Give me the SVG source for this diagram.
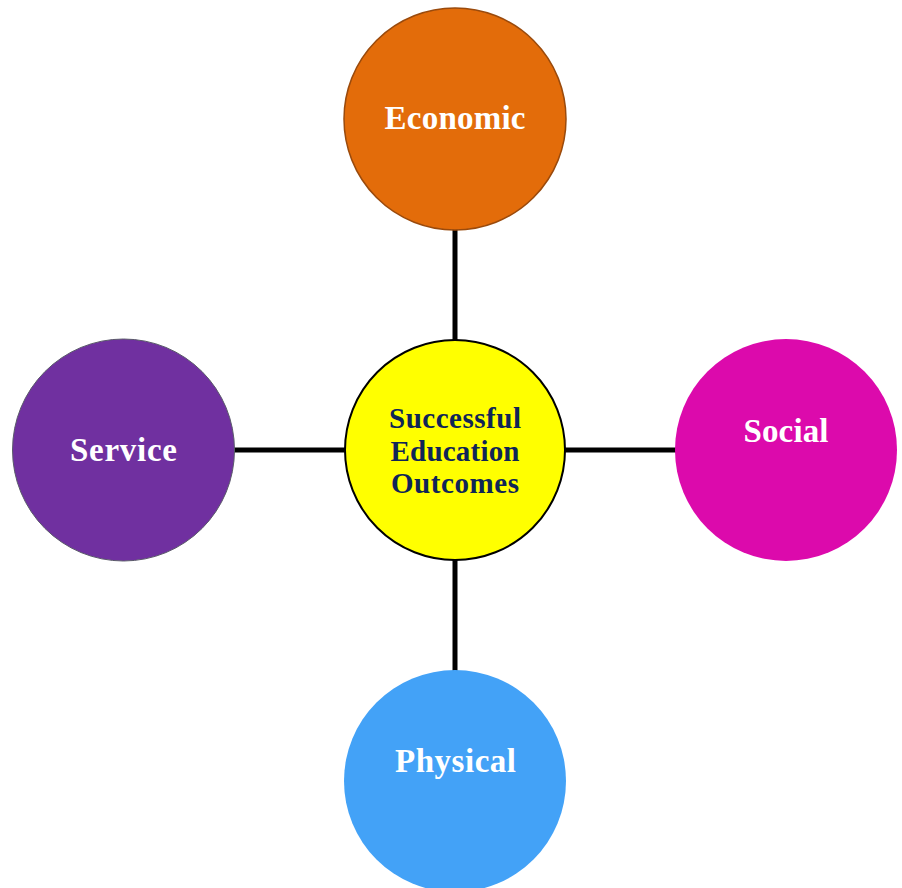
<svg xmlns="http://www.w3.org/2000/svg" width="902" height="888" viewBox="0 0 902 888">
<style>
.lbl{font-family:"Liberation Serif","Times New Roman",serif;font-weight:bold;text-anchor:middle}
.outer{font-size:33px;fill:#ffffff}
.center{font-size:29px;fill:#0f2557}
.conn{stroke:#000000;stroke-width:5;fill:none}
</style>
<rect width="902" height="888" fill="#ffffff"/>
<g id="connectors">
<line class="conn" x1="455" y1="229" x2="455" y2="341"/>
<line class="conn" x1="455" y1="559" x2="455" y2="671"/>
<line class="conn" x1="234" y1="450" x2="345" y2="450"/>
<line class="conn" x1="565" y1="450" x2="676" y2="450"/>
</g>
<g id="economic">
<circle cx="455" cy="119" r="111" fill="#E36C0A" stroke="#9A4A0C" stroke-width="1.5"/>
<text class="lbl outer" x="455" y="129" textLength="141">Economic</text>
</g>
<g id="center">
<circle cx="455" cy="450" r="110" fill="#FFFF00" stroke="#000000" stroke-width="2"/>
<text class="lbl center" x="455" y="428" textLength="132">Successful</text>
<text class="lbl center" x="455" y="461" textLength="129">Education</text>
<text class="lbl center" x="455" y="493" textLength="128">Outcomes</text>
</g>
<g id="service">
<circle cx="123.5" cy="450" r="111" fill="#7030A0" stroke="#5a5a6a" stroke-width="1"/>
<text class="lbl outer" x="123.5" y="461" textLength="107">Service</text>
</g>
<g id="social">
<circle cx="786" cy="450" r="111" fill="#DC0AAC"/>
<text class="lbl outer" x="786" y="442" textLength="85">Social</text>
</g>
<g id="physical">
<circle cx="455" cy="781" r="111" fill="#43A2F7"/>
<text class="lbl outer" x="455.5" y="772" textLength="121">Physical</text>
</g>
</svg>
